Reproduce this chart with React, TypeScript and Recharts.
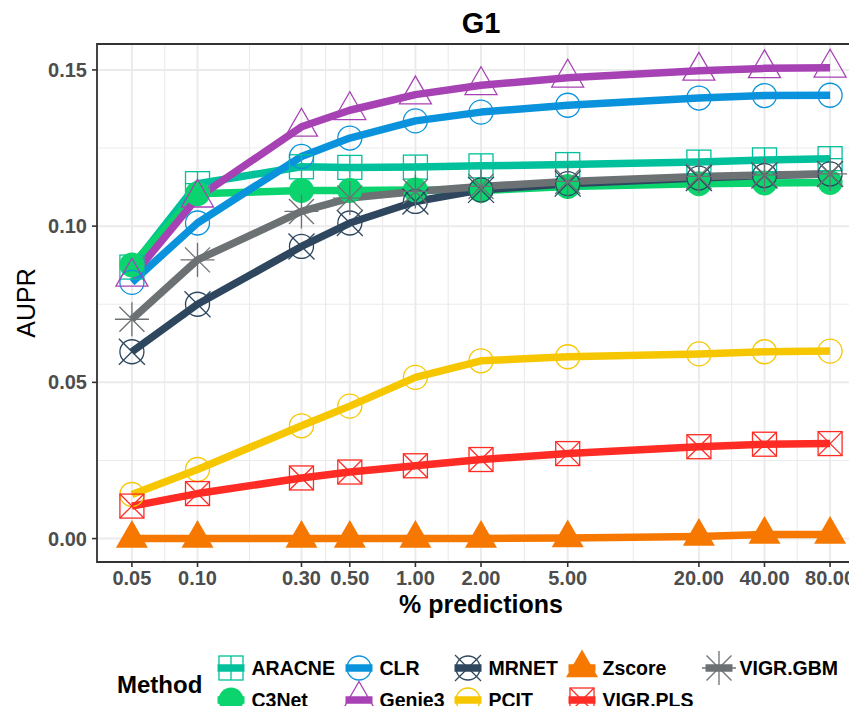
import React from "react";
import {
  LineChart,
  Line,
  XAxis,
  YAxis,
  CartesianGrid,
  ReferenceArea,
  Legend,
} from "recharts";

// % of predictions kept (x, log scale)
const PCT = [0.05, 0.1, 0.3, 0.5, 1, 2, 5, 20, 40, 80];
const Y_TICKS = [0, 0.05, 0.1, 0.15];
const Y_MINOR = [0.025, 0.075, 0.125];

// AUPR per method
const ARACNE = [0.0869, 0.1136, 0.119, 0.1188, 0.1189, 0.1193, 0.1197, 0.1205, 0.1212, 0.1216];
const C3NET = [0.0876, 0.1104, 0.1114, 0.1114, 0.1116, 0.1114, 0.1127, 0.1136, 0.1138, 0.114];
const CLR = [0.082, 0.101, 0.1223, 0.1282, 0.1337, 0.1365, 0.1387, 0.141, 0.1418, 0.1419];
const GENIE3 = [0.0838, 0.1091, 0.1318, 0.1371, 0.1421, 0.1451, 0.1475, 0.1497, 0.1505, 0.1507];
const MRNET = [0.0598, 0.075, 0.0935, 0.101, 0.1079, 0.1116, 0.1136, 0.1154, 0.1162, 0.1167];
const PCIT = [0.0141, 0.0221, 0.0361, 0.0424, 0.0516, 0.0569, 0.0582, 0.0591, 0.0598, 0.06];
const ZSCORE = [0, 0, 0, 0, 0, 0, 0.0002, 0.0007, 0.0013, 0.0013];
const VIGR_PLS = [0.0104, 0.0144, 0.0194, 0.0213, 0.0233, 0.0253, 0.0272, 0.0294, 0.0302, 0.0304];
const VIGR_GBM = [0.0702, 0.0892, 0.1047, 0.109, 0.1111, 0.1127, 0.1143, 0.1159, 0.1164, 0.1167];

const METHODS = [
  { key: "ARACNE", label: "ARACNE", values: ARACNE, color: "#00C19B" },
  { key: "C3Net", label: "C3Net", values: C3NET, color: "#0BD36E" },
  { key: "CLR", label: "CLR", values: CLR, color: "#0A93DC" },
  { key: "Genie3", label: "Genie3", values: GENIE3, color: "#A742B4" },
  { key: "MRNET", label: "MRNET", values: MRNET, color: "#2E475F" },
  { key: "PCIT", label: "PCIT", values: PCIT, color: "#F6C700" },
  { key: "Zscore", label: "Zscore", values: ZSCORE, color: "#F67800" },
  { key: "VIGR_PLS", label: "VIGR.PLS", values: VIGR_PLS, color: "#FE2C24" },
  { key: "VIGR_GBM", label: "VIGR.GBM", values: VIGR_GBM, color: "#6C7173" },
];

const data = PCT.map((x, i) => {
  const row: Record<string, number> = { x };
  METHODS.forEach((m) => (row[m.key] = m.values[i]));
  return row;
});

// ggplot-like 5% expansion on the log axis
const logSpan = Math.log10(PCT[PCT.length - 1] / PCT[0]);
const X_DOMAIN = [PCT[0] / 10 ** (0.05 * logSpan), PCT[PCT.length - 1] * 10 ** (0.05 * logSpan)];
const Y_DOMAIN = [-0.0075, 0.1583];
// minor breaks sit halfway between majors in log space
const X_MINOR = PCT.slice(1).map((v, i) => Math.sqrt(v * PCT[i]));

const FONT = "'Liberation Sans', Arial, Helvetica, sans-serif";
const SW = 1.3;

const MethodShape = ({ method, cx, cy }: { method: string; cx: number; cy: number }) => {
  const c = METHODS.find((m) => m.key === method)!.color;
  switch (method) {
    case "ARACNE":
      return (
        <g stroke={c} strokeWidth={SW} fill="none">
          <rect x={cx - 12} y={cy - 12} width={24} height={24} />
          <line x1={cx - 12} y1={cy} x2={cx + 12} y2={cy} />
          <line x1={cx} y1={cy - 12} x2={cx} y2={cy + 12} />
        </g>
      );
    case "C3Net":
      return <circle cx={cx} cy={cy} r={12.5} fill={c} />;
    case "CLR":
    case "PCIT":
      return <circle cx={cx} cy={cy} r={12} fill="none" stroke={c} strokeWidth={SW} />;
    case "Genie3":
      return (
        <polygon
          points={`${cx},${cy - 18.5} ${cx + 16},${cy + 9.3} ${cx - 16},${cy + 9.3}`}
          fill="none"
          stroke={c}
          strokeWidth={SW}
        />
      );
    case "MRNET":
      return (
        <g stroke={c} strokeWidth={SW} fill="none">
          <circle cx={cx} cy={cy} r={12} />
          <line x1={cx - 13} y1={cy - 13} x2={cx + 13} y2={cy + 13} />
          <line x1={cx - 13} y1={cy + 13} x2={cx + 13} y2={cy - 13} />
        </g>
      );
    case "Zscore":
      return (
        <polygon
          points={`${cx},${cy - 18.5} ${cx + 16},${cy + 9.3} ${cx - 16},${cy + 9.3}`}
          fill={c}
        />
      );
    case "VIGR_PLS":
      return (
        <g stroke={c} strokeWidth={SW} fill="none">
          <rect x={cx - 12} y={cy - 12} width={24} height={24} />
          <line x1={cx - 12} y1={cy - 12} x2={cx + 12} y2={cy + 12} />
          <line x1={cx - 12} y1={cy + 12} x2={cx + 12} y2={cy - 12} />
        </g>
      );
    default:
      return (
        <g stroke={c} strokeWidth={SW}>
          <line x1={cx - 17} y1={cy} x2={cx + 17} y2={cy} />
          <line x1={cx} y1={cy - 17} x2={cx} y2={cy + 17} />
          <line x1={cx - 12.5} y1={cy - 12.5} x2={cx + 12.5} y2={cy + 12.5} />
          <line x1={cx - 12.5} y1={cy + 12.5} x2={cx + 12.5} y2={cy - 12.5} />
        </g>
      );
  }
};

const renderDot = (method: string) => (props: any) => (
  <MethodShape key={`${method}-${props.index}`} method={method} cx={props.cx} cy={props.cy} />
);

// legend: 2 rows, filled column by column
const LEGEND_COLS = [231, 359, 468, 582, 719];
const LEGEND_ROWS = [28, 60];

const MethodLegend = () => (
  <svg width={857} height={74} style={{ fontFamily: FONT }}>
    <text x={117} y={53} fontSize={24} fontWeight="bold" fill="#000">
      Method
    </text>
    {METHODS.map((m, i) => {
      const cx = LEGEND_COLS[Math.floor(i / 2)];
      const cy = LEGEND_ROWS[i % 2];
      return (
        <g key={m.key}>
          <line x1={cx - 13.5} y1={cy} x2={cx + 13.5} y2={cy} stroke={m.color} strokeWidth={7.5} />
          <MethodShape method={m.key} cx={cx} cy={cy} />
          <text x={cx + 20.5} y={cy + 7} fontSize={19.5} fontWeight="bold" fill="#000">
            {m.label}
          </text>
        </g>
      );
    })}
  </svg>
);

const App = () => (
  <div
    style={{
      position: "relative",
      width: 857,
      height: 714,
      margin: -8,
      overflow: "hidden",
      background: "#fff",
      fontFamily: FONT,
    }}
  >
    <svg width={857} height={44} style={{ position: "absolute", left: 0, top: 0 }}>
      <text x={481} y={33} textAnchor="middle" fontSize={29} fontWeight="bold" fill="#000" fontFamily={FONT}>
        G1
      </text>
    </svg>
    <LineChart width={870} height={714} data={data} margin={{ top: 44, right: 5, bottom: 92, left: 0 }}>
      <CartesianGrid stroke="#EBEBEB" strokeWidth={1.1} verticalValues={X_MINOR} horizontalValues={Y_MINOR} />
      <CartesianGrid stroke="#EBEBEB" strokeWidth={2} />
      <XAxis
        dataKey="x"
        type="number"
        scale="log"
        domain={X_DOMAIN}
        allowDataOverflow
        ticks={PCT}
        interval={0}
        tickFormatter={(v: number) => v.toFixed(2)}
        tick={{ fill: "#4D4D4D", fontSize: 20, fontWeight: "bold", fontFamily: FONT }}
        tickLine={{ stroke: "#333333", strokeWidth: 1.6 }}
        tickSize={5}
        tickMargin={4}
        axisLine={false}
        height={60}
        label={({ viewBox }: any) => (
          <text
            x={481}
            y={viewBox.y + 51}
            textAnchor="middle"
            fontSize={25}
            fontWeight="bold"
            fill="#000"
            fontFamily={FONT}
          >
            % predictions
          </text>
        )}
      />
      <YAxis
        type="number"
        domain={Y_DOMAIN}
        allowDataOverflow
        ticks={Y_TICKS}
        interval={0}
        tickFormatter={(v: number) => v.toFixed(2)}
        tick={{ fill: "#4D4D4D", fontSize: 20, fontWeight: "bold", fontFamily: FONT }}
        tickLine={{ stroke: "#333333", strokeWidth: 1.6 }}
        tickSize={5}
        tickMargin={5}
        axisLine={false}
        width={97}
        label={() => (
          <text
            x={35}
            y={303}
            transform="rotate(-90 35 303)"
            textAnchor="middle"
            fontSize={25}
            fill="#000"
            fontFamily={FONT}
          >
            AUPR
          </text>
        )}
      />
      {METHODS.map((m) => (
        <Line
          key={`line-${m.key}`}
          dataKey={m.key}
          stroke={m.color}
          strokeWidth={7.5}
          strokeLinejoin="round"
          dot={false}
          activeDot={false}
          legendType="none"
          isAnimationActive={false}
        />
      ))}
      {METHODS.map((m) => (
        <Line
          key={`pts-${m.key}`}
          dataKey={m.key}
          stroke="none"
          strokeWidth={0}
          dot={renderDot(m.key)}
          activeDot={false}
          legendType="none"
          isAnimationActive={false}
        />
      ))}
      <ReferenceArea
        x1={X_DOMAIN[0]}
        x2={X_DOMAIN[1]}
        y1={Y_DOMAIN[0]}
        y2={Y_DOMAIN[1]}
        fill="none"
        stroke="#333333"
        strokeWidth={1.8}
        ifOverflow="extendDomain"
      />
      <Legend
        layout="horizontal"
        align="center"
        verticalAlign="middle"
        wrapperStyle={{ top: 640, left: 0, width: 857, height: 74 }}
        content={() => <MethodLegend />}
      />
    </LineChart>
  </div>
);

export default App;
